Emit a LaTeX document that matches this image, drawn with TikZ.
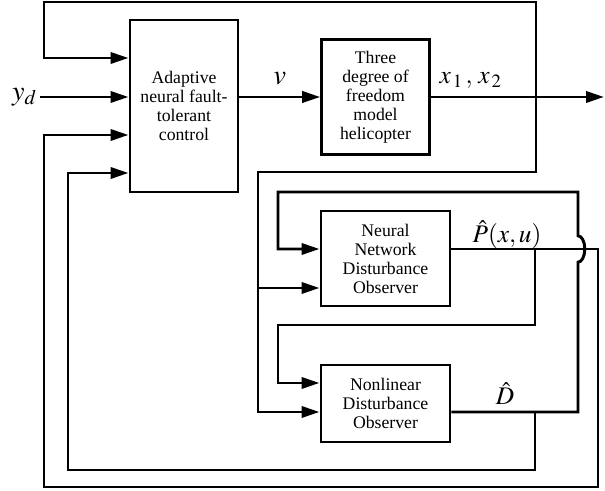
\documentclass[tikz,border=0pt]{standalone}
\usepackage{mathptmx}
\usepackage[no-math]{fontspec}
\setmainfont{Liberation Serif}
\usetikzlibrary{arrows.meta}

\tikzset{
  blk/.style={draw, line width=2.1pt, align=center, inner sep=0pt,
    font=\fontsize{12.6}{13.5}\selectfont},
  sig/.style={inner sep=2pt, font=\fontsize{18}{20}\selectfont},
  bigsig/.style={sig, font=\fontsize{20}{22}\selectfont},
  wire/.style={line width=2.1pt},
}

\begin{document}
\begin{tikzpicture}[>={Triangle[length=4.5mm,width=2.8mm]}, line join=miter]
\useasboundingbox (0,0) rectangle (15.125,12.275);

% blocks
\node[blk, minimum width=2.7cm, minimum height=4.3cm] (adp) at (4.6,9.625)
  {Adaptive\\neural fault-\\tolerant\\control};
\node[blk, minimum width=2.69cm, minimum height=2.875cm] (heli) at (9.3875,9.85)
  {Three\\degree of\\freedom\\model\\helicopter};
\node[blk, minimum width=3.225cm, minimum height=2.375cm] (nndo) at (9.6375,5.8125)
  {Neural\\Network\\Disturbance\\Observer};
\node[blk, minimum width=3.225cm, minimum height=1.925cm] (nldo) at (9.6375,2.1875)
  {Nonlinear\\Disturbance\\Observer};

% signals
\node[bigsig, anchor=east] (yd) at (1.0,9.85) {$y_d$};
\node[sig, anchor=base] (phat) at (12.675,6.22) {$\hat{P}(x,u)$};
\node[sig, anchor=base] (dhat) at (12.625,2.17) {$\hat{D}$};

\coordinate (out) at (15.1,9.85);
\coordinate (tap) at (13.4,9.85);
\coordinate (fb) at (6.45,5.075);
\coordinate (pj) at (13.375,6.05);
\coordinate (dj) at (13.375,1.975);

% forward path
\draw[wire,->] (yd) -- (yd -| adp.west);
\draw[wire,->] (adp.east |- heli.west) -- (heli.west)
  node[bigsig, midway, above=5.5pt] {$v$};
\draw[wire,->] (heli) -- (out)
  node[sig, pos=0.23, above=3pt] {$x_{\,1}\,,\,x_{\,2}$};

% state feedback
\draw[wire,->] (tap) -- (tap |- 0,12.225) -| (1.1,10.825) -- (adp.west |- 0,10.825);
\draw[wire,->] (tap) |- (6.45,7.975) |- (nldo.west |- dj);
\draw[wire,->] (fb) -- (nndo.west |- fb);

% observer outputs
\draw[wire,->] (nndo.east |- pj) -- (14.95,6.05) |- (1.1,0.1) |- (adp.west |- 0,8.9);
\draw[wire,->] (pj) |- (6.95,4.15) |- (nldo.west |- 0,2.7);
\draw[wire,->] (nldo.east |- dj) -- (14.45,1.975) -- (14.45,5.72)
  arc[start angle=-90, end angle=90, x radius=0.17, y radius=0.33]
  -- (14.45,7.475) -| (6.95,6.05) -- (nndo.west |- pj);
\draw[wire,->] (dj) |- (1.7,0.525) |- (adp.west |- 0,7.95);
\end{tikzpicture}
\end{document}
